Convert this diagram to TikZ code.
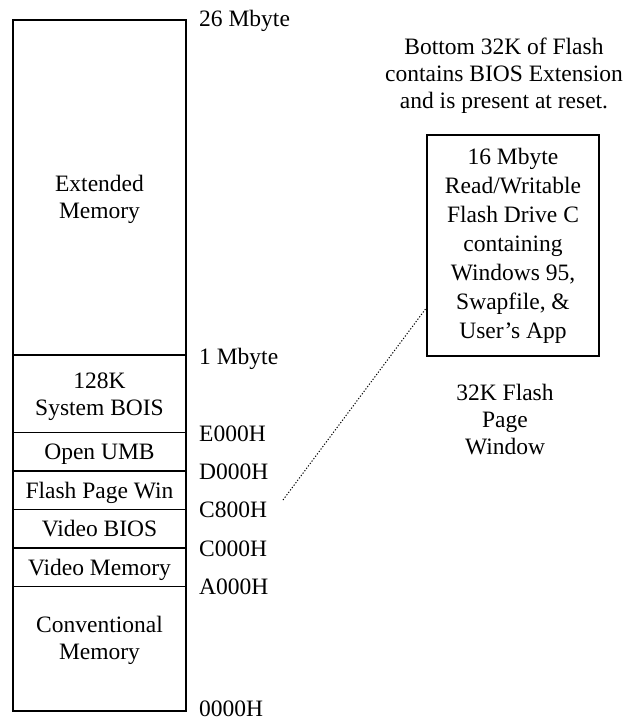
\documentclass[tikz,border=0pt]{standalone}
\usepackage{fontspec}
\setmainfont{Liberation Serif}
\begin{document}
\begin{tikzpicture}[x=1bp,y=-1bp,
  every node/.style={font=\fontsize{23.5bp}{27bp}\selectfont, inner sep=0pt},
  frame/.style={draw, line width=1.5bp},
  addr/.style={anchor=base west},
  cell/.style={anchor=base},
  ml/.style={align=center, anchor=center},
  link/.style={draw, line width=1bp, dash pattern=on 1.2bp off 1.8bp}]
\useasboundingbox (0,0) rectangle (628,721);
% memory map
\draw[frame] (13,20) rectangle (186,711);
\foreach \yy in {355,432.5,471,509.5,548,586.5}
  \draw[frame] (13,\yy) -- (186,\yy);
\node[ml] (ext) at (99.5,199) {Extended\\Memory};
\node[ml] (sys) at (99.5,397) {128K\\System BOIS};
\node[cell] (umb) at (99.5,459.5) {Open UMB};
\node[cell] (fpw) at (99.5,498) {Flash Page Win};
\node[cell] (vbios) at (99.5,536.5) {Video BIOS};
\node[cell] (vmem) at (99.5,575) {Video Memory};
\node[ml] (conv) at (99.5,640) {Conventional\\Memory};
% addresses
\node[addr] (a26) at (199,27) {26 Mbyte};
\node[addr] (a1) at (199,364) {1 Mbyte};
\node[addr] (aE) at (199,441) {E000H};
\node[addr] (aD) at (199,479) {D000H};
\node[addr] (aC8) at (199,517.5) {C800H};
\node[addr] (aC) at (199,556) {C000H};
\node[addr] (aA) at (199,594) {A000H};
\node[addr] (a0) at (199,716.5) {0000H};
% right side
\node[ml] (note) at (504,76) {Bottom 32K of Flash\\contains BIOS Extension\\and is present at reset.};
\node[frame, align=center, minimum width=172bp, minimum height=221bp,
  font=\fontsize{23.5bp}{29bp}\selectfont] (flash) at (513,245.5)
  {16 Mbyte\\Read/Writable\\Flash Drive C\\containing\\Windows 95,\\Swapfile, \&\\User’s App};
\node[ml] (win) at (505,420) {32K Flash\\Page\\Window};
% connector
\coordinate (dstart) at (283,500);
\coordinate (dend) at (427,308);
\draw[link] (dstart) -- (flash.west |- dend);
\end{tikzpicture}
\end{document}
